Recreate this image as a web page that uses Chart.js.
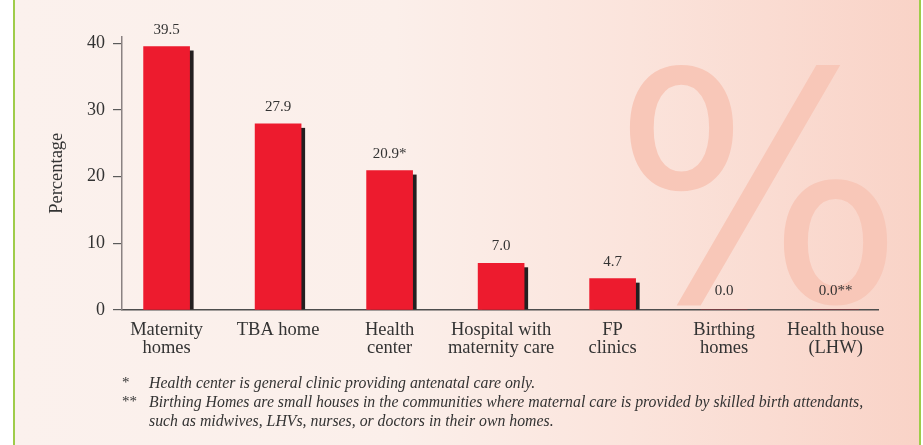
<!DOCTYPE html>
<html>
<head>
<meta charset="utf-8">
<script src="https://cdn.jsdelivr.net/npm/chart.js@4.4.0/dist/chart.umd.min.js"></script>
<style>
  html, body { margin: 0; padding: 0; background: #ffffff; }
  .frame {
    position: absolute; left: 13px; top: 0; width: 904px; height: 445px;
    border-left: 2px solid #9fcc4a; border-right: 2px solid #9fcc4a;
    background: linear-gradient(to right, #fbf1ed 0%, #fbefea 42%, #fbe4dc 68%, #f9d3c7 100%);
  }
  canvas { position: absolute; left: 0; top: 0; }
  .notes {
    position: absolute; left: 122px; top: 373px;
    font-family: "Liberation Serif", serif; font-style: italic; font-size: 15.8px;
    line-height: 19px; color: #333;
  }
  .notes div { position: relative; padding-left: 27px; }
  .notes span { position: absolute; left: 0; font-style: normal; font-size: 15px; }
</style>
</head>
<body>
<div class="frame"></div>
<canvas class="js-chart" width="923" height="445"></canvas>
<div class="notes">
  <div><span>*</span>Health center is general clinic providing antenatal care only.</div>
  <div><span>**</span>Birthing Homes are small houses in the communities where maternal care is provided by skilled birth attendants,<br>such as midwives, LHVs, nurses, or doctors in their own homes.</div>
</div>
<script>
// data
const categories = [
    ["Maternity", "homes"],
    ["TBA home"],
    ["Health", "center"],
    ["Hospital with", "maternity care"],
    ["FP", "clinics"],
    ["Birthing", "homes"],
    ["Health house", "(LHW)"]
]
const values = [39.5, 27.9, 20.9, 7.0, 4.7, 0.0, 0.0]
const noteMarks = ["", "", "*", "", "", "", "**"]
const yTicks = [0, 10, 20, 30, 40]

const textColor = "#333333"
const serif = "'Liberation Serif', 'Times New Roman', serif"

// big % watermark behind the bars
const watermark = {
    id: "watermark",
    beforeDraw(chart) {
        const ctx = chart.ctx
        const area = chart.chartArea
        ctx.save()
        ctx.fillStyle = "#f8c7b8"
        ctx.font = "318px 'DejaVu Sans', sans-serif"
        ctx.textBaseline = "alphabetic"
        ctx.translate(area.right - 265, area.bottom - 9)
        ctx.scale(0.963, 1)
        ctx.fillText("%", 0, 0)
        ctx.restore()
    }
}

// dark drop shadow on right side of every bar
const barShadow = {
    id: "barShadow",
    beforeDatasetsDraw(chart) {
        const ctx = chart.ctx
        const meta = chart.getDatasetMeta(0)
        ctx.save()
        ctx.fillStyle = "#231f20"
        for (const bar of meta.data) {
            const p = bar.getProps(["x", "y", "base", "width"], true)
            const h = p.base - p.y - 4
            if (h > 0) ctx.fillRect(p.x - p.width / 2 + 4, p.y + 4, p.width, h)
        }
        ctx.restore()
    }
}

// value labels above the bars
const valueLabels = {
    id: "valueLabels",
    afterDatasetsDraw(chart) {
        const ctx = chart.ctx
        const meta = chart.getDatasetMeta(0)
        ctx.save()
        ctx.fillStyle = textColor
        ctx.font = "15px " + serif
        ctx.textAlign = "center"
        ctx.textBaseline = "alphabetic"
        meta.data.forEach((bar, i) => {
            const txt = values[i].toFixed(1) + noteMarks[i]
            const off = values[i] === 0 ? 15 : 13
            ctx.fillText(txt, bar.x, bar.y - off)
        })
        ctx.restore()
    }
}

const data = {
    datasets: [{
        data: values.map((v, i) => ({ x: i, y: v })),
        backgroundColor: "#ed1b2e",
        borderWidth: 0,
        barThickness: 46
    }]
}

const config = {
    type: "bar",
    data: data,
    options: {
        responsive: false,
        devicePixelRatio: 1,
        animation: false,
        layout: { padding: { left: 0, right: 45, top: 36.5, bottom: 0 } },
        plugins: {
            legend: { display: false },
            tooltip: { enabled: false }
        },
        scales: {
            x: {
                type: "linear",
                offset: false,
                min: -0.4,
                max: 6.38,
                afterBuildTicks: s => { s.ticks = categories.map((c, i) => ({ value: i })) },
                afterFit: s => { s.height = 445 - 310 },
                grid: { display: true, offset: false, drawOnChartArea: false, drawTicks: false },
                border: { display: true, color: "#4d4d4d", width: 1.5 },
                ticks: {
                    padding: 11,
                    autoSkip: false,
                    maxRotation: 0,
                    color: textColor,
                    font: { family: serif, size: 18.5, lineHeight: 0.973 },
                    callback: v => categories[v]
                }
            },
            y: {
                min: 0,
                max: 41,
                afterBuildTicks: s => { s.ticks = yTicks.map(v => ({ value: v })) },
                afterFit: s => { s.width = 122 },
                grid: { display: true, drawOnChartArea: false, drawTicks: true, tickLength: 9, color: "#5a5a5a", lineWidth: 1.2 },
                border: { display: true, color: "#8a8282", width: 1.5 },
                ticks: {
                    padding: 8,
                    color: textColor,
                    font: { family: serif, size: 18 }
                },
                title: {
                    display: true,
                    text: "Percentage",
                    color: textColor,
                    font: { family: serif, size: 18.5 },
                    padding: { top: 46, bottom: 0 }
                }
            }
        }
    },
    plugins: [watermark, barShadow, valueLabels]
}

const chart = new Chart(document.querySelector(".js-chart"), config)
</script>
</body>
</html>
